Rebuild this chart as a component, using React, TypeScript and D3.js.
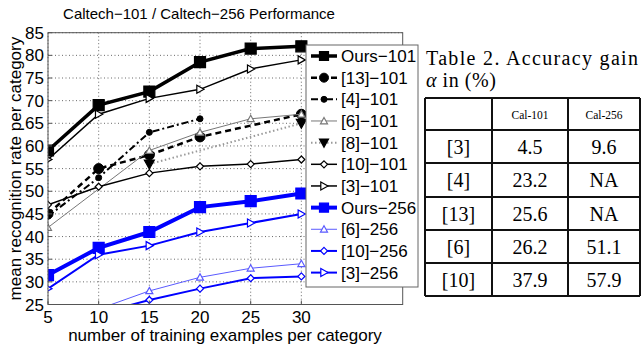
import React from 'react';
import * as d3 from 'd3';

// x positions and tick labels
const xTicks = [5, 10, 15, 20, 25, 30];
const yTicks = [25, 30, 35, 40, 45, 50, 55, 60, 65, 70, 75, 80, 85];

// series values
const ours101 = [59, 69, 72, 78.5, 81.5, 82];
const ref13x = [5, 10, 15, 20, 30];
const ref13_101 = [45, 55, 58, 62, 67];
const ref4x = [5, 10, 15, 20];
const ref4_101 = [44.5, 53, 63, 66];
const ref6x = [5, 15, 20, 25, 30];
const ref6_101 = [42, 59, 63, 66, 67];
const ref8x = [15, 30];
const ref8_101 = [56, 65];
const ref10_101 = [47, 51, 54, 55.5, 56, 57];
const ref3_101 = [57, 67, 70.5, 72.5, 77, 79];
const ours256 = [31.5, 37.5, 41, 46.5, 47.8, 49.5];
const tailX = [10, 15, 20, 25, 30];
const ref6_256 = [24, 28, 31, 33, 34];
const ref10_256 = [23, 26, 28.5, 30.8, 31.2];
const ref3_256 = [28.5, 36, 38, 41, 43, 45];

// table
const tableCols = ['', 'Cal-101', 'Cal-256'];
const tableRefs = ['[3]', '[4]', '[13]', '[6]', '[10]'];
const gain101 = ['4.5', '23.2', '25.6', '26.2', '37.9'];
const gain256 = ['9.6', 'NA', 'NA', '51.1', '57.9'];

type Series = {
  name: string;
  xs: number[];
  ys: number[];
  color: string;
  width: number;
  dash?: string;
  marker: 'square' | 'circle' | 'dot' | 'up' | 'down' | 'diamond' | 'right';
  mSize: number;
  mFill: string;
  mStroke: string;
};

const BLUE = '#0000ff';

const series: Series[] = [
  { name: 'Ours\u2212101', xs: xTicks, ys: ours101, color: '#000', width: 3.5, marker: 'square', mSize: 11, mFill: '#000', mStroke: '#000' },
  { name: '[13]\u2212101', xs: ref13x, ys: ref13_101, color: '#000', width: 2.5, dash: '6,4', marker: 'circle', mSize: 10, mFill: '#000', mStroke: '#000' },
  { name: '[4]\u2212101', xs: ref4x, ys: ref4_101, color: '#000', width: 2, dash: '7,3,2,3', marker: 'dot', mSize: 6, mFill: '#000', mStroke: '#000' },
  { name: '[6]\u2212101', xs: ref6x, ys: ref6_101, color: '#777', width: 1, marker: 'up', mSize: 7, mFill: '#fff', mStroke: '#777' },
  { name: '[8]\u2212101', xs: ref8x, ys: ref8_101, color: '#999', width: 2, dash: '1.5,2.5', marker: 'down', mSize: 10, mFill: '#000', mStroke: '#000' },
  { name: '[10]\u2212101', xs: xTicks, ys: ref10_101, color: '#000', width: 1.5, marker: 'diamond', mSize: 7, mFill: '#fff', mStroke: '#000' },
  { name: '[3]\u2212101', xs: xTicks, ys: ref3_101, color: '#000', width: 1.5, marker: 'right', mSize: 8, mFill: '#fff', mStroke: '#000' },
  { name: 'Ours\u2212256', xs: xTicks, ys: ours256, color: BLUE, width: 4, marker: 'square', mSize: 11, mFill: BLUE, mStroke: BLUE },
  { name: '[6]\u2212256', xs: tailX, ys: ref6_256, color: '#5a5aff', width: 1, marker: 'up', mSize: 7, mFill: '#fff', mStroke: '#5a5aff' },
  { name: '[10]\u2212256', xs: tailX, ys: ref10_256, color: BLUE, width: 2, marker: 'diamond', mSize: 7, mFill: '#fff', mStroke: BLUE },
  { name: '[3]\u2212256', xs: xTicks, ys: ref3_256, color: BLUE, width: 2, marker: 'right', mSize: 8, mFill: '#fff', mStroke: BLUE },
];

const L = 48, R = 402.7, T = 32.7, B = 304.5;
const x = d3.scaleLinear().domain([5, 40]).range([L, R]);
const y = d3.scaleLinear().domain([25, 85]).range([B, T]);

const Marker = ({ s, cx, cy }: { s: Series; cx: number; cy: number }) => {
  const r = s.mSize / 2;
  let d = '';
  if (s.marker === 'square') d = `M${-r},${-r}h${2 * r}v${2 * r}h${-2 * r}Z`;
  else if (s.marker === 'diamond') d = `M0,${-r}L${r},0L0,${r}L${-r},0Z`;
  else if (s.marker === 'up') d = `M0,${-r}L${r},${r * 0.8}L${-r},${r * 0.8}Z`;
  else if (s.marker === 'down') d = `M0,${r}L${r},${-r * 0.8}L${-r},${-r * 0.8}Z`;
  else if (s.marker === 'right') d = `M${r},0L${-r * 0.8},${r}L${-r * 0.8},${-r}Z`;
  if (s.marker === 'circle' || s.marker === 'dot')
    return <circle cx={cx} cy={cy} r={r} fill={s.mFill} stroke={s.mStroke} strokeWidth={1} />;
  return <path d={d} transform={`translate(${cx},${cy})`} fill={s.mFill} stroke={s.mStroke} strokeWidth={1.2} />;
};

const App = () => {
  const line = d3.line<[number, number]>().x(d => x(d[0])).y(d => y(d[1]));
  const legX = 306, legY = 45, legW = 112, legH = 242;
  const rowH = 21.66;

  const tL = 425, tR = 640, tT = 98;
  const colX = [tL, 492, 568, tR];
  const rowY = [tT, 130, 163, 197, 230, 263, 296];

  return (
    <div style={{ position: 'fixed', left: 0, top: 0 }}>
      <svg width={642} height={347} style={{ display: 'block', background: '#fff' }}
        fontFamily="'Liberation Sans', Arial, sans-serif">
        <defs>
          <clipPath id="plotClip">
            <rect x={L} y={T} width={R - L} height={B - T} />
          </clipPath>
        </defs>
        {/* title */}
        <text x={199} y={19} fontSize={15} textAnchor="middle">Caltech{'\u2212'}101 / Caltech{'\u2212'}256 Performance</text>

        {/* grid */}
        {xTicks.map(t => (
          <line key={'gx' + t} x1={x(t)} x2={x(t)} y1={T} y2={B} stroke="#444" strokeWidth={0.8} strokeDasharray="1,2.5" />
        ))}
        {yTicks.map(t => (
          <line key={'gy' + t} x1={L} x2={R} y1={y(t)} y2={y(t)} stroke="#444" strokeWidth={0.8} strokeDasharray="1,2.5" />
        ))}

        {/* series */}
        <g clipPath="url(#plotClip)">
          {series.map(s => {
            const pts = s.xs.map((v, i) => [v, s.ys[i]] as [number, number]);
            return (
              <g key={s.name}>
                <path d={line(pts) || ''} fill="none" stroke={s.color} strokeWidth={s.width} strokeDasharray={s.dash} />
                {pts.map((p, i) => <Marker key={i} s={s} cx={x(p[0])} cy={y(p[1])} />)}
              </g>
            );
          })}
        </g>

        {/* axes box and ticks */}
        <rect x={L} y={T} width={R - L} height={B - T} fill="none" stroke="#555" strokeWidth={1} />
        {xTicks.map(t => (
          <g key={'tx' + t}>
            <line x1={x(t)} x2={x(t)} y1={B} y2={B - 4} stroke="#555" />
            <text x={x(t)} y={323} fontSize={17} textAnchor="middle">{t}</text>
          </g>
        ))}
        {yTicks.map(t => (
          <g key={'ty' + t}>
            <line x1={L} x2={L + 4} y1={y(t)} y2={y(t)} stroke="#555" />
            <text x={44} y={y(t) + 6} fontSize={17} textAnchor="end">{t}</text>
          </g>
        ))}
        <text x={225} y={341} fontSize={17} textAnchor="middle">number of training examples per category</text>
        <text transform={`translate(21,${(T + B) / 2}) rotate(-90)`} fontSize={17} textAnchor="middle">mean recognition rate per category</text>

        {/* legend */}
        <rect x={legX} y={legY} width={legW} height={legH} fill="#fff" stroke="#666" strokeWidth={1} />
        {series.map((s, i) => {
          const cy = 56 + i * rowH;
          return (
            <g key={'lg' + s.name}>
              <line x1={311} x2={337} y1={cy} y2={cy} stroke={s.color} strokeWidth={s.width} strokeDasharray={s.dash} />
              <Marker s={{ ...s, mSize: Math.min(s.mSize, 9) }} cx={324} cy={cy} />
              <text x={341} y={cy + 6} fontSize={17}>{s.name}</text>
            </g>
          );
        })}

        {/* table */}
        <g fontFamily="'Liberation Serif', 'Times New Roman', serif">
          <text x={426} y={65} fontSize={20} textLength={212} lengthAdjust="spacing">Table 2. Accuracy gain</text>
          <text x={426} y={87} fontSize={20} textLength={70} lengthAdjust="spacing"><tspan fontStyle="italic">{'\u03b1'}</tspan> in (%)</text>
          {rowY.map((ry, i) => (
            <line key={'ry' + i} x1={tL} x2={tR} y1={ry} y2={ry} stroke="#111" strokeWidth={2} />
          ))}
          {colX.map((cx, i) => (
            <line key={'cx' + i} x1={cx} x2={cx} y1={tT} y2={296} stroke="#111" strokeWidth={2} />
          ))}
          {tableCols.map((c, i) => (
            <text key={'hc' + i} x={(colX[i] + colX[i + 1]) / 2} y={119} fontSize={11.5} textAnchor="middle">{c}</text>
          ))}
          {tableRefs.map((r, i) => {
            const by = (rowY[i + 1] + rowY[i + 2]) / 2 + 7;
            return (
              <g key={'tr' + r}>
                <text x={(colX[0] + colX[1]) / 2} y={by} fontSize={20} textAnchor="middle">{r}</text>
                <text x={(colX[1] + colX[2]) / 2} y={by} fontSize={20} textAnchor="middle">{gain101[i]}</text>
                <text x={(colX[2] + colX[3]) / 2} y={by} fontSize={20} textAnchor="middle">{gain256[i]}</text>
              </g>
            );
          })}
        </g>
      </svg>
    </div>
  );
};

export default App;
